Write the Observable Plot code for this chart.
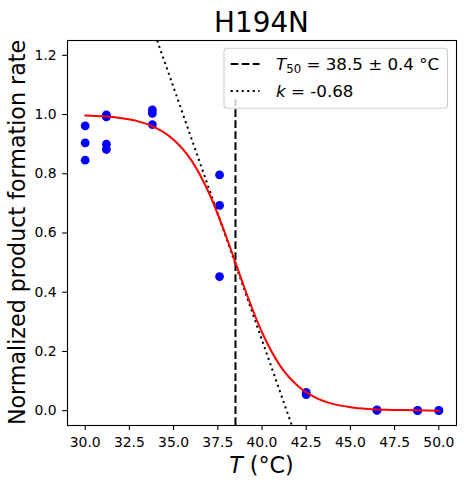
<!DOCTYPE html>
<html>
<head>
<meta charset="utf-8">
<script src="https://cdn.jsdelivr.net/npm/d3@7"></script>
<script src="https://cdn.jsdelivr.net/npm/@observablehq/plot@0.6"></script>
<style>
html, body { margin: 0; padding: 0; background: white; overflow: hidden; }
</style>
</head>
<body>
<div id="chart"></div>
<script>
// Observed data (temperature °C, normalized rate)
const obsT = [30.0, 30.0, 30.0, 31.2, 31.2, 31.2, 31.2, 33.8, 33.8, 33.8, 37.6, 37.6, 37.6, 42.5, 42.5, 46.5, 46.5, 48.8, 48.8, 50.0, 50.0];
const obsRate = [0.962, 0.904, 0.846, 0.999, 0.992, 0.900, 0.882, 1.016, 1.004, 0.966, 0.796, 0.693, 0.453, 0.062, 0.054, 0.003, 0.001, 0.001, 0.000, 0.001, 0.000];

// Fitted sigmoid curve
const fitT = [30, 31, 32, 33, 34, 35, 36, 37, 38, 38.5, 39, 40, 41, 42, 43, 44, 45, 46, 47, 48, 50];
const fitRate = [0.997, 0.994, 0.988, 0.977, 0.955, 0.915, 0.846, 0.735, 0.584, 0.5, 0.416, 0.265, 0.154, 0.085, 0.045, 0.023, 0.012, 0.006, 0.003, 0.002, 0.000];

// Tangent (slope) line end points
const tangentT = [34.07, 41.69];
const tangentRate = [1.25, -0.05];

// T50 marker line (vertical extent)
const t50 = [38.5];
const t50Bottom = [-0.05];
const t50Top = [1.05];

const xTicks = [30.0, 32.5, 35.0, 37.5, 40.0, 42.5, 45.0, 47.5, 50.0];
const yTicks = [0.0, 0.2, 0.4, 0.6, 0.8, 1.0, 1.2];

const title = "H194N";
const yLabel = "Normalized product formation rate";
const legendT50 = "38.5 ± 0.4 °C";
const legendK = "-0.68";

const obs = obsT.map((t, i) => ({t, r: obsRate[i]}));
const fit = fitT.map((t, i) => ({t, r: fitRate[i]}));
const tangent = tangentT.map((t, i) => ({t, r: tangentRate[i]}));
const t50Line = t50.map((t, i) => ({t, y1: t50Bottom[i], y2: t50Top[i]}));

const plot = Plot.plot({
  width: 464,
  height: 487,
  marginLeft: 67,
  marginRight: 8,
  marginTop: 40,
  marginBottom: 62,
  style: {fontFamily: "DejaVu Sans", fontSize: "13.9px", background: "white", color: "black"},
  x: {domain: [29, 51]},
  y: {domain: [-0.05, 1.25]},
  marks: [
    Plot.axisX({ticks: xTicks, tickFormat: d => d.toFixed(1), tickSize: 4.9, tickPadding: 7, label: null, strokeWidth: 1.1}),
    Plot.axisY({ticks: yTicks, tickFormat: d => d.toFixed(1), tickSize: 4.9, tickPadding: 6, label: null, strokeWidth: 1.1}),
    Plot.dot(obs, {x: "t", y: "r", r: 4.4, fill: "#0000ff", stroke: "none"}),
    Plot.ruleX(t50Line, {x: "t", y1: "y1", y2: "y2", stroke: "black", strokeWidth: 2, strokeDasharray: "7.7,3.3"}),
    Plot.line(tangent, {x: "t", y: "r", stroke: "black", strokeWidth: 2, strokeDasharray: "2.1,3.6", strokeLinecap: "butt", clip: true}),
    Plot.line(fit, {x: "t", y: "r", stroke: "#ff0000", strokeWidth: 2, curve: "monotone-x"}),
    Plot.frame({stroke: "black", strokeWidth: 1.1})
  ]
});

const svg = d3.select(plot);

// Title
svg.append("text")
  .attr("x", 261.5).attr("y", 32)
  .attr("text-anchor", "middle")
  .style("font-size", "27.8px")
  .attr("fill", "black")
  .text(title);

// X label
const xl = svg.append("text")
  .attr("x", 261.5).attr("y", 473)
  .attr("text-anchor", "middle")
  .style("font-size", "22.2px")
  .attr("fill", "black");
xl.append("tspan").style("font-style", "italic").text("T");
xl.append("tspan").text(" (°C)");

// Y label
svg.append("text")
  .attr("transform", "translate(25,232.5) rotate(-90)")
  .attr("text-anchor", "middle")
  .style("font-size", "22.2px")
  .attr("fill", "black")
  .text(yLabel);

// Legend
const lg = svg.append("g");
lg.append("rect")
  .attr("x", 224).attr("y", 48.3)
  .attr("width", 223.5).attr("height", 60)
  .attr("rx", 3.3).attr("ry", 3.3)
  .style("fill", "white").style("fill-opacity", 0.8)
  .style("stroke", "#cccccc").style("stroke-width", 1.1);
lg.append("line")
  .attr("x1", 230.7).attr("x2", 259.5).attr("y1", 64).attr("y2", 64)
  .style("stroke", "black").style("stroke-width", 2).style("stroke-dasharray", "7.7,3.3");
lg.append("line")
  .attr("x1", 230.7).attr("x2", 259.5).attr("y1", 91).attr("y2", 91)
  .style("stroke", "black").style("stroke-width", 2).style("stroke-dasharray", "2.1,3.4");
const t1 = lg.append("text")
  .attr("x", 276).attr("y", 69.5)
  .attr("text-anchor", "start")
  .style("font-size", "16.7px").attr("fill", "black");
t1.append("tspan").style("font-style", "italic").text("T");
t1.append("tspan").style("font-size", "11.7px").attr("dy", 3).text("50");
t1.append("tspan").attr("dy", -3).text(" = " + legendT50);
const t2 = lg.append("text")
  .attr("x", 276).attr("y", 97)
  .attr("text-anchor", "start")
  .style("font-size", "16.7px").attr("fill", "black");
t2.append("tspan").style("font-style", "italic").text("k");
t2.append("tspan").text(" = " + legendK);

document.getElementById("chart").appendChild(plot);
</script>
</body>
</html>
